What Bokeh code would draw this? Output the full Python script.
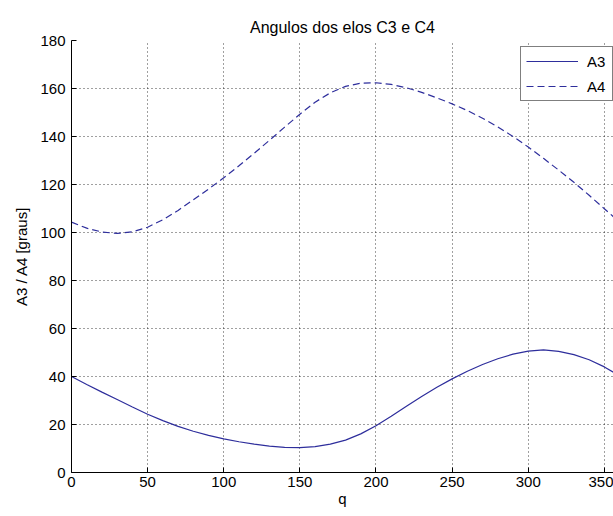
from bokeh.plotting import figure
from bokeh.models import Range1d, FixedTicker, Legend, LegendItem
from bokeh.embed import file_html
from bokeh.resources import INLINE

# crank angle q (degrees)
q = [0, 10, 20, 30, 40, 50, 60, 70, 80, 90, 100, 110, 120, 130, 140, 150, 160, 170, 180,
     190, 200, 210, 220, 230, 240, 250, 260, 270, 280, 290, 300, 310, 320, 330, 340, 350, 360]

# link angle A3 (degrees)
a3 = [40.0, 36.7, 33.5, 30.4, 27.3, 24.3, 21.6, 19.2, 17.2, 15.5, 14.0, 12.8, 11.8, 11.0, 10.5,
      10.4, 10.8, 11.8, 13.5, 16.1, 19.5, 23.4, 27.6, 31.7, 35.5, 39.0, 42.2, 45.0, 47.4, 49.3,
      50.6, 51.1, 50.5, 49.1, 47.0, 44.0, 40.2]

# link angle A4 (degrees)
a4 = [104.3, 101.8, 100.2, 99.6, 100.3, 102.2, 105.3, 109.2, 113.6, 118.1, 122.8, 127.8, 133.0,
      138.4, 143.9, 149.3, 154.3, 158.2, 160.9, 162.2, 162.4, 161.7, 160.3, 158.4, 156.1, 153.6,
      150.8, 147.6, 144.0, 140.0, 135.6, 130.9, 126.0, 120.9, 115.5, 109.9, 104.3]

x_ticks = [0, 50, 100, 150, 200, 250, 300, 350]
y_ticks = [0, 20, 40, 60, 80, 100, 120, 140, 160, 180]

title_text = "Angulos dos elos C3 e C4"
x_label = "q"
y_label = "A3 / A4 [graus]"
series_names = ["A3", "A4"]

FONT = "Liberation Sans"
LINE_COLOR = "#2e2e9c"

p = figure(width=613, height=516, output_backend="svg", toolbar_location=None,
           x_range=Range1d(0, 356), y_range=Range1d(0, 180),
           min_border_left=71, min_border_right=0, min_border_top=40, min_border_bottom=44)

p.title.text = title_text
p.title.align = "center"
p.title.text_font = FONT
p.title.text_font_size = "16px"
p.title.text_font_style = "normal"
p.title.text_color = "black"
p.title.standoff = 9
p.title.offset = 3

p.outline_line_color = None
p.background_fill_color = "white"
p.border_fill_color = "white"

for ax, ticks in ((p.xaxis[0], x_ticks), (p.yaxis[0], y_ticks)):
    ax.ticker = FixedTicker(ticks=ticks)
    ax.major_tick_in = 5
    ax.major_tick_out = 0
    ax.minor_tick_line_color = None
    ax.axis_line_color = "black"
    ax.major_tick_line_color = "black"
    ax.major_label_text_font = FONT
    ax.major_label_text_font_size = "15px"
    ax.major_label_text_color = "black"
    ax.axis_label_text_font = FONT
    ax.axis_label_text_font_size = "15px"
    ax.axis_label_text_font_style = "normal"
    ax.axis_label_text_color = "black"

p.xaxis.axis_label = x_label
p.yaxis.axis_label = y_label
p.xaxis.major_label_standoff = 4
p.yaxis.major_label_standoff = 6
p.xaxis.axis_label_standoff = 0
p.yaxis.axis_label_standoff = 7

for g, ticks in ((p.xgrid[0], x_ticks), (p.ygrid[0], y_ticks)):
    g.ticker = FixedTicker(ticks=ticks)
    g.grid_line_color = "black"
    g.grid_line_alpha = 0.75
    g.grid_line_dash = "1 3"
    g.grid_line_width = 1

r3 = p.line(q, a3, line_color=LINE_COLOR, line_width=1.2)
r4 = p.line(q, a4, line_color=LINE_COLOR, line_width=1.2, line_dash="7 4")

legend = Legend(items=[LegendItem(label=series_names[0], renderers=[r3]),
                       LegendItem(label=series_names[1], renderers=[r4])],
                location=(449, 371))
legend.label_text_font = FONT
legend.label_text_font_size = "15px"
legend.label_text_color = "black"
legend.border_line_color = "black"
legend.border_line_width = 1
legend.background_fill_color = "white"
legend.background_fill_alpha = 1
legend.padding = 5
legend.spacing = 7
legend.label_height = 18
legend.glyph_height = 18
legend.glyph_width = 52
legend.label_standoff = 9
legend.margin = 0
p.add_layout(legend, "center")

open("out.html", "w").write(file_html(p, INLINE))
